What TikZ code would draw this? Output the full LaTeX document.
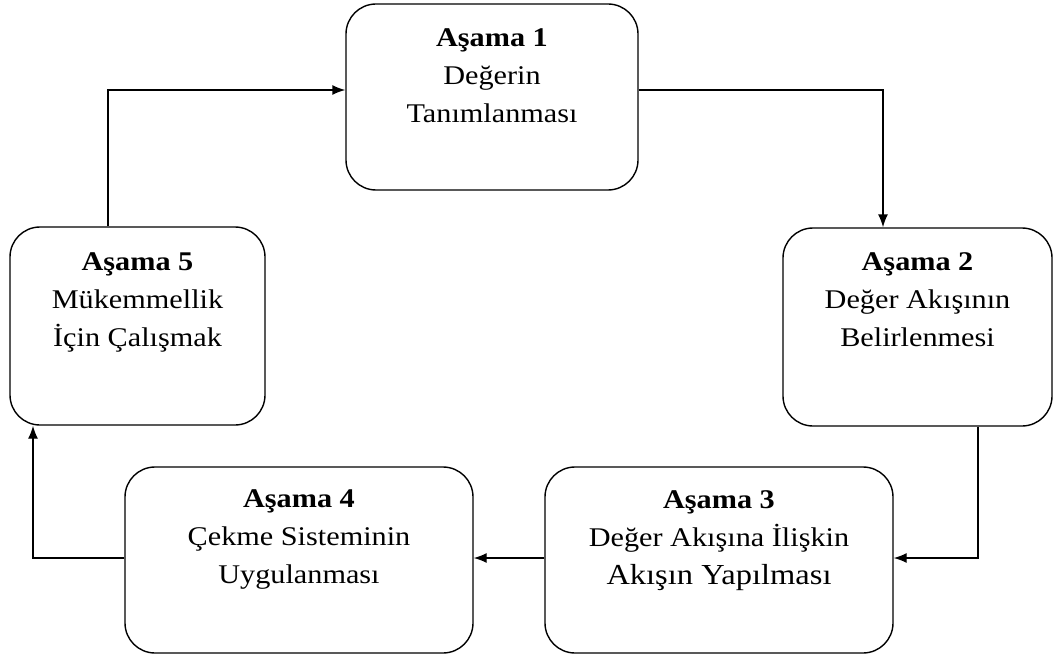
\documentclass[tikz,border=0pt]{standalone}
\usepackage{fontspec}
\setmainfont{Liberation Serif}[FakeStretch=1.12]
\usepackage{tikz}
\usetikzlibrary{arrows.meta, positioning, calc}

\begin{document}
\begin{tikzpicture}[x=1pt, y=-1pt, >={Latex[length=13pt,width=10pt]},
  stage/.style={draw, line width=1.4pt, rounded corners=30pt, inner sep=0pt},
  stagetext/.style={anchor=base, align=center, inner sep=0pt,
    font=\fontsize{27}{38}\selectfont},
  flow/.style={->, line width=1.4pt}]
  \useasboundingbox (0,0) rectangle (1057,658);
  % Stage boxes
  \node[stage, minimum width=292pt, minimum height=186pt] (s1) at (492,97) {};
  \node[stage, minimum width=269pt, minimum height=198pt] (s2) at (917.5,327) {};
  \node[stage, minimum width=348pt, minimum height=186pt] (s3) at (719,560) {};
  \node[stage, minimum width=348pt, minimum height=186pt] (s4) at (299,560) {};
  \node[stage, minimum width=255pt, minimum height=198pt] (s5) at (137.5,326) {};
  % Stage texts (base = last line)
  \node[stagetext] (t1) at ($(s1.north)+(0,119)$)
    {\textbf{Aşama 1}\\Değerin\\Tanımlanması};
  \node[stagetext] (t2) at ($(s2.north)+(0,119)$)
    {\textbf{Aşama 2}\\Değer Akışının\\Belirlenmesi};
  \node[stagetext] (t3) at ($(s3.north)+(0,118)$)
    {\textbf{Aşama 3}\\Değer Akışına İlişkin\\
     {\fontsize{29}{38}\selectfont Akışın Yapılması}};
  \node[stagetext] (t4) at ($(s4.north)+(0,117)$)
    {\textbf{Aşama 4}\\Çekme Sisteminin\\Uygulanması};
  \node[stagetext] (t5) at ($(s5.north)+(0,120)$)
    {\textbf{Aşama 5}\\Mükemmellik\\İçin Çalışmak};
  % Bends of the cycle
  \coordinate (k51) at (108,90);
  \coordinate (k12) at (883,90);
  \coordinate (k23) at (978,558);
  \coordinate (k45) at (33,558);
  % Connectors
  \draw[flow] (k51 |- s5.north) -- (k51) -- (k51 -| s1.west);
  \draw[flow] (k12 -| s1.east) -- (k12) -- (k12 |- s2.north);
  \draw[flow] (k23 |- s2.south) -- (k23) -- (k23 -| s3.east);
  \draw[flow] (k23 -| s3.west) -- (k23 -| s4.east);
  \draw[flow] (k45 -| s4.west) -- (k45) -- (k45 |- s5.south);
\end{tikzpicture}
\end{document}
